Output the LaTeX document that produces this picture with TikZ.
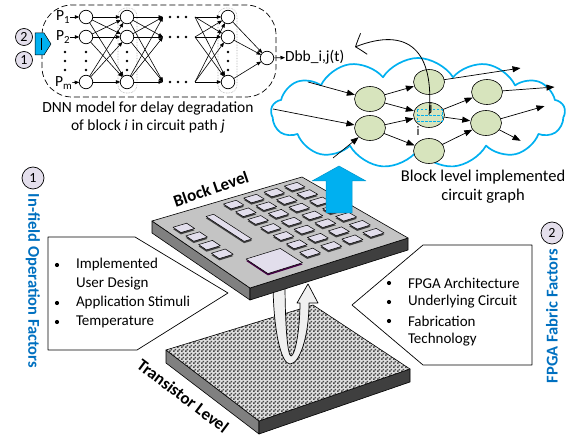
\documentclass[tikz,border=0pt]{standalone}
\usepackage{fontspec}
\setmainfont{Carlito}
\usetikzlibrary{arrows.meta,bending,shapes.geometric,shapes.symbols,patterns,calc}

\definecolor{skyblue}{HTML}{00B0F0}
\definecolor{factorblue}{HTML}{0070C0}
\definecolor{lavender}{HTML}{E4DFEC}
\definecolor{chipface}{HTML}{E2DEEC}
\definecolor{sage}{HTML}{D7E4BD}
\definecolor{boardtop}{HTML}{C4C4C4}
\definecolor{boardleft}{HTML}{808080}
\definecolor{boardright}{HTML}{3F3F3F}

% fine checkerboard for the transistor layer
\pgfdeclarepatternformonly{finecheck}{\pgfqpoint{0pt}{0pt}}{\pgfqpoint{3.6pt}{3.6pt}}{\pgfqpoint{3.6pt}{3.6pt}}{%
  \pgfpathrectangle{\pgfqpoint{0pt}{0pt}}{\pgfqpoint{1.8pt}{1.8pt}}%
  \pgfpathrectangle{\pgfqpoint{1.8pt}{1.8pt}}{\pgfqpoint{1.8pt}{1.8pt}}%
  \pgfusepath{fill}}

% bilinear point on the block-level face: name, s (left->front), t (left->back)
\newcommand\facept[3]{%
  \pgfmathsetmacro\fpx{(1-(#2))*(1-(#3))*\Lx+(#2)*(1-(#3))*\Fx+(1-(#2))*(#3)*\Bx+(#2)*(#3)*\Rx}%
  \pgfmathsetmacro\fpy{(1-(#2))*(1-(#3))*\Ly+(#2)*(1-(#3))*\Fy+(1-(#2))*(#3)*\By+(#2)*(#3)*\Ry}%
  \coordinate (#1) at (\fpx,\fpy);}
% raised block on the face: [edge colour]{s0}{t0}{s1}{t1}
\newcommand\chip[5][black!75]{%
  \facept{q1}{#2}{#3}\facept{q2}{#4}{#3}\facept{q3}{#4}{#5}\facept{q4}{#2}{#5}%
  \fill[#1] ([yshift=-1.8pt]q1) -- ([yshift=-1.8pt]q2) -- ([yshift=-1.8pt]q3) -- ([yshift=-1.8pt]q4) -- cycle;
  \filldraw[fill=chipface, draw=black, line width=0.5pt] (q1) -- (q2) -- (q3) -- (q4) -- cycle;}

\begin{document}
\begin{tikzpicture}[x=1pt, y=-1pt, line join=round,
  every node/.style={inner sep=0pt, outer sep=0pt},
  lbl/.style={font=\fontsize{15.5}{18}\selectfont},
  item/.style={font=\fontsize{15}{18}\selectfont, anchor=west},
  neuron/.style={circle, draw, fill=white, minimum size=13.5pt, line width=0.7pt},
  dnn/.style={-{Triangle[length=4.5pt,width=3.6pt]}, line width=0.6pt},
  gnode/.style={ellipse, draw, fill=sage, minimum width=31pt, minimum height=25pt, line width=0.6pt},
  gedge/.style={-{Triangle[length=8pt,width=6pt]}, line width=0.7pt, shorten >=0.5pt},
  numcircle/.style={circle, draw, fill=lavender, line width=0.7pt, font=\fontsize{14}{16}\selectfont},
  factor/.style={font=\fontsize{16.5}{18}\selectfont\bfseries, text=factorblue},
  levelname/.style={font=\fontsize{17}{20}\selectfont\bfseries}]

\useasboundingbox (0,0) rectangle (576,438);

% ---------------- DNN model ----------------
\draw[dashed, dash pattern=on 6pt off 3pt, line width=0.7pt, rounded corners=30pt] (42,5) rectangle (276,97);
\draw[gray!70, densely dotted, line width=0.6pt, rounded corners=8pt] (118,8) rectangle (137,93);
\draw[gray!70, densely dotted, line width=0.6pt, rounded corners=8pt] (218,8) rectangle (237,93);

\node[numcircle, minimum size=17pt] (in2) at (24,37) {2};
\node[numcircle, minimum size=17pt] (in1) at (24,60) {1};
\filldraw[fill=skyblue, draw=black, line width=0.5pt] (35,33) -- (44,33) -- (51,44) -- (44,55) -- (35,55) -- cycle;
\draw[line width=0.8pt] (41,38) -- (41,50);

\node[neuron] (a1) at (86,17) {};
\node[neuron] (a2) at (86,37) {};
\node[neuron] (a3) at (86,82) {};
\node[neuron] (b1) at (127,17) {};
\node[neuron] (b2) at (127,37) {};
\node[neuron] (b3) at (127,82) {};
\node[neuron] (c1) at (228,17) {};
\node[neuron] (c2) at (228,37) {};
\node[neuron] (c3) at (228,82) {};
\node[neuron] (out) at (267,58) {};
\coordinate (v1) at (163,17); \coordinate (v2) at (163,37); \coordinate (v3) at (163,82);
\coordinate (w1) at (195,17); \coordinate (w2) at (195,37); \coordinate (w3) at (195,82);

\node[lbl, anchor=west] (p1) at (56,17) {P\textsubscript{1}};
\node[lbl, anchor=west] (p2) at (56,37) {P\textsubscript{2}};
\node[lbl, anchor=west] (pm) at (55,83) {P\textsubscript{m}};
\draw[dnn] (p1) -- (a1);
\draw[dnn] (p2) -- (a2);
\draw[dnn] (pm) -- (a3);

\foreach \i in {1,2,3}{
  \foreach \j in {1,2,3}{
    \draw[dnn] (a\i) -- (b\j);
    \draw[dnn] (b\i) -- (v\j);
    \draw[dnn] (w\i) -- (c\j);
  }
  \draw[dnn] (c\i) -- (out);
}
% ellipsis dots
\foreach \y in {17,37,82}{
  \foreach \x in {170,178,186} \fill (\x,\y) circle (1.3pt);
}
\foreach \x in {65,86,127,228}{
  \foreach \y in {52,61,70} \fill (\x,\y) circle (1.4pt);
}

\node[lbl, anchor=west] (dbb) at (285,57) {Dbb\_i,j(t)};
\draw[dnn] (out) -- (dbb);

\node[lbl, align=center] (dnncap) at (148,117) {DNN model for delay degradation\\of block \textit{i} in circuit path \textit{j}};

% ---------------- circuit graph cloud ----------------
\node[cloud, cloud puffs=13, cloud puff arc=115, aspect=2.8, draw=skyblue, line width=1.7pt, fill=white,
      minimum width=294pt, minimum height=110pt] (cloud) at (418,113) {};

\node[gnode] (A) at (370,99) {};
\node[gnode] (B) at (370,128) {};
\node[gnode] (C) at (429,82) {};
\node[gnode] (D) at (429,115) {};
\node[gnode] (E) at (429,151) {};
\node[gnode] (F) at (487,92) {};
\node[gnode] (G) at (486,123) {};

\coordinate (s1) at (308,82);
\coordinate (s2) at (273,109);
\coordinate (s3) at (333,158);
\coordinate (e1) at (521,68);
\coordinate (e2) at (555,87);
\coordinate (e3) at (545,106);
\coordinate (e4) at (521,141);

\draw[gedge] (s1) -- (A);
\draw[gedge] (s2) -- (B);
\draw[gedge] (s3) -- (B);
\draw[gedge] (A) -- (C);
\draw[gedge] (A) -- (D);
\draw[gedge] (B) -- (D);
\draw[gedge] (B) -- (E);
\draw[gedge] (C) -- (e1);
\draw[gedge] (F) -- (e2);
\draw[gedge] (D) -- (F);
\draw[gedge] (D) -- (G);
\draw[gedge] (E) -- (G);
\draw[gedge] (G) -- (e3);
\draw[gedge] (G) -- (e4);

\draw[skyblue, line width=1pt, dash pattern=on 2.5pt off 1.5pt] (417,110) rectangle (442,122);
\draw[skyblue, line width=1pt, dash pattern=on 2.5pt off 1.5pt] (417,116) -- (442,116);
\node[font=\fontsize{13}{15}\selectfont] (jl) at (431,108) {j};
\node[font=\fontsize{13}{15}\selectfont] (il) at (418,131) {i};

\coordinate (dtip) at (355,47);
\draw[line width=0.8pt, -{Straight Barb[bend, length=9pt, width=22pt]}] (D.center) .. controls (435,50) and (408,26) .. (dtip);

\node[font=\fontsize{16.5}{19}\selectfont, align=center] (graphcap) at (483,187) {Block level implemented\\circuit graph};

% ---------------- transistor level ----------------
\coordinate (tL) at (166,350);
\coordinate (tF) at (259,421);
\coordinate (tB) at (313,305);
\coordinate (tR) at (410,369);
\filldraw[fill=boardleft, line width=0.6pt] (tL) -- (tF) -- ([yshift=-13pt]tF) -- ([yshift=-13pt]tL) -- cycle;
\filldraw[fill=boardright, line width=0.6pt] (tF) -- (tR) -- ([yshift=-13pt]tR) -- ([yshift=-13pt]tF) -- cycle;
\fill[gray!25] (tL) -- (tF) -- (tR) -- (tB) -- cycle;
\fill[pattern=finecheck, pattern color=black!72] (tL) -- (tF) -- (tR) -- (tB) -- cycle;
\draw[line width=0.6pt] (tL) -- (tF) -- (tR) -- (tB) -- cycle;
\node[levelname, rotate=-37] (tlevel) at (183,396) {Transistor Level};

% curved arrow between the levels
\filldraw[fill=gray!12, draw=black, line width=0.7pt]
  (273,280) .. controls (273,330) and (281,364) .. (290,364)
  .. controls (300,364) and (309,335) .. (309,303) -- (318,303) -- (308,284) -- (297,303) -- (300,303)
  .. controls (300,330) and (295,356) .. (291,356)
  .. controls (288,356) and (285,330) .. (285,280) -- cycle;

% ---------------- block level ----------------
\def\Lx{152}\def\Ly{221}\def\Fx{250}\def\Fy{288}\def\Bx{302}\def\By{177}\def\Rx{408}\def\Ry{238}
\coordinate (bL) at (\Lx,\Ly);
\coordinate (bF) at (\Fx,\Fy);
\coordinate (bB) at (\Bx,\By);
\coordinate (bR) at (\Rx,\Ry);
\filldraw[fill=boardleft, line width=0.6pt] (bL) -- (bF) -- ([yshift=-12pt]bF) -- ([yshift=-12pt]bL) -- cycle;
\filldraw[fill=boardright, line width=0.6pt] (bF) -- (bR) -- ([yshift=-12pt]bR) -- ([yshift=-12pt]bF) -- cycle;
\filldraw[fill=boardtop, line width=0.6pt] (bL) -- (bF) -- (bR) -- (bB) -- cycle;

\foreach \s in {0.17,0.30,0.43,0.56} {\chip{\s-0.04}{0.055}{\s+0.04}{0.145}}
\chip{0.12}{0.28}{0.50}{0.33}
\chip[black!45!violet]{0.69}{0.17}{0.91}{0.39}
\foreach \s in {0.08,0.2,0.32,0.445,0.57,0.70,0.83}{
  \foreach \t in {0.49,0.625,0.76,0.895}{
    \chip{\s-0.0375}{\t-0.0425}{\s+0.0375}{\t+0.0425}
  }
}
\node[levelname, rotate=19] (blevel) at (211,189) {Block Level};

% abstraction arrow up to the circuit graph
\filldraw[fill=skyblue, draw=skyblue!85!black, line width=0.5pt]
  (326,213) -- (326,181) -- (312,181) -- (339,166) -- (366,181) -- (352,181) -- (352,213) -- cycle;

% ---------------- factor callouts ----------------
\filldraw[fill=white, line width=0.7pt] (48,237) -- (135,237) -- (228,293) -- (137,350) -- (48,350) -- cycle;
\foreach \y/\t in {265/Implemented, 284/User Design, 303/Application Stimuli, 322/Temperature}
  \node[item] at (76,\y) {\t};
\foreach \y in {265,303,322} \fill (57,\y) circle (2.1pt);

\filldraw[fill=white, line width=0.7pt] (423,245) -- (532,245) -- (532,365) -- (423,365) -- (352,305) -- cycle;
\foreach \y/\t in {283/FPGA Architecture, 302/Underlying Circuit, 321/Fabrication, 340/Technology}
  \node[item] at (408,\y) {\t};
\foreach \y in {283,302,321} \fill (389,\y) circle (2.1pt);

\node[numcircle, minimum size=22pt] (f1) at (33,178) {1};
\node[factor, rotate=-90] (infield) at (33,281) {In-field Operation Factors};
\node[numcircle, minimum size=22pt] (f2) at (552,233) {2};
\node[factor, rotate=90] (fabric) at (552,316) {FPGA Fabric Factors};

\end{tikzpicture}
\end{document}
